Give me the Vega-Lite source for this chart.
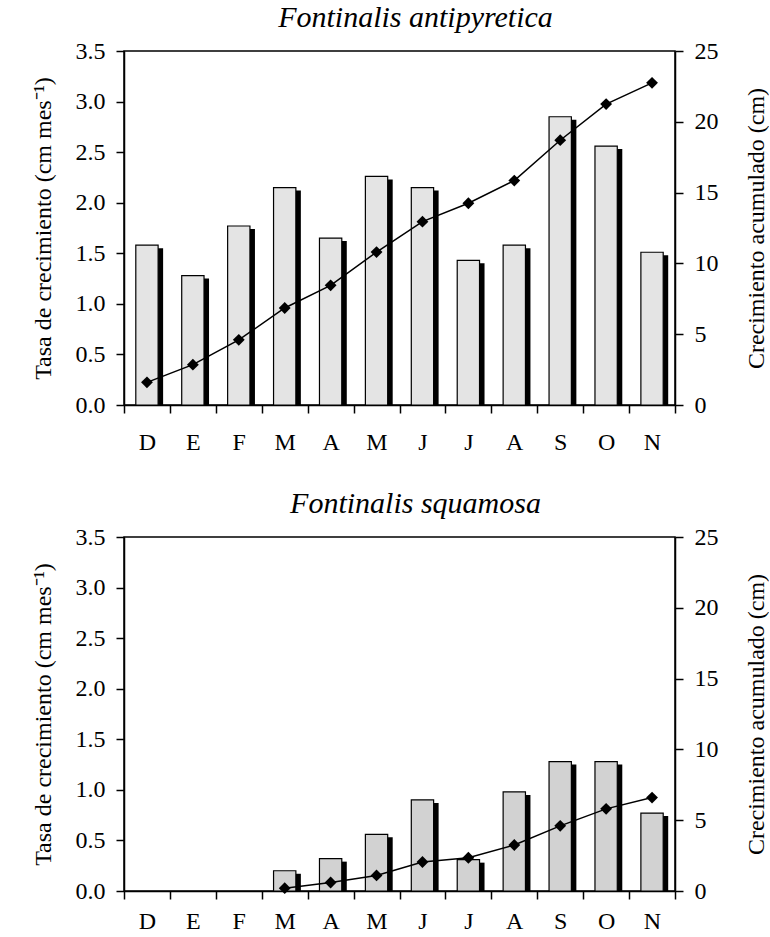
{
  "$schema": "https://vega.github.io/schema/vega-lite/v6.json",
  "background": "white",
  "padding": {"left": 30, "top": 2, "right": 0, "bottom": 0},
  "spacing": 33,
  "config": {
    "font": "Liberation Serif",
    "view": {"stroke": "black", "strokeWidth": 1.5},
    "axis": {
      "grid": false,
      "domainColor": "black",
      "domainWidth": 1.5,
      "tickColor": "black",
      "tickWidth": 1.5,
      "tickSize": 8,
      "labelFont": "Liberation Serif",
      "labelFontSize": 24,
      "labelColor": "black",
      "titleFont": "Liberation Serif",
      "titleFontSize": 24,
      "titleFontWeight": "normal",
      "titleColor": "black"
    },
    "title": {"font": "Liberation Serif", "fontSize": 30, "fontStyle": "italic", "fontWeight": "normal", "color": "black", "offset": 6, "dx": 16}
  },
  "datasets": {
    "a": [
      {"mes": "D", "tasa": 1.58, "cum": 1.6},
      {"mes": "E", "tasa": 1.28, "cum": 2.85},
      {"mes": "F", "tasa": 1.77, "cum": 4.6},
      {"mes": "Mar", "tasa": 2.15, "cum": 6.85},
      {"mes": "Abr", "tasa": 1.65, "cum": 8.45},
      {"mes": "May", "tasa": 2.26, "cum": 10.8},
      {"mes": "Jun", "tasa": 2.15, "cum": 12.95},
      {"mes": "Jul", "tasa": 1.43, "cum": 14.25},
      {"mes": "Ago", "tasa": 1.58, "cum": 15.85},
      {"mes": "S", "tasa": 2.85, "cum": 18.7},
      {"mes": "O", "tasa": 2.56, "cum": 21.25},
      {"mes": "N", "tasa": 1.51, "cum": 22.75}
    ],
    "s": [
      {"mes": "D", "tasa": 0, "cum": null},
      {"mes": "E", "tasa": 0, "cum": null},
      {"mes": "F", "tasa": 0, "cum": null},
      {"mes": "Mar", "tasa": 0.2, "cum": 0.2},
      {"mes": "Abr", "tasa": 0.32, "cum": 0.6},
      {"mes": "May", "tasa": 0.56, "cum": 1.1},
      {"mes": "Jun", "tasa": 0.9, "cum": 2.05},
      {"mes": "Jul", "tasa": 0.31, "cum": 2.35},
      {"mes": "Ago", "tasa": 0.98, "cum": 3.25},
      {"mes": "S", "tasa": 1.28, "cum": 4.6},
      {"mes": "O", "tasa": 1.28, "cum": 5.8},
      {"mes": "N", "tasa": 0.77, "cum": 6.6}
    ]
  },
  "vconcat": [
    {
      "title": {"text": "Fontinalis antipyretica"},
      "width": 551,
      "height": 354,
      "data": {"name": "a"},
      "encoding": {
        "x": {"field": "mes", "type": "ordinal", "sort": null,
          "scale": {"domain": ["D", "E", "F", "Mar", "Abr", "May", "Jun", "Jul", "Ago", "S", "O", "N"], "paddingInner": 0, "paddingOuter": 0},
          "axis": {"title": null, "labelAngle": 0, "tickBand": "extent", "labelExpr": "substring(datum.label,0,1)", "labelPadding": 17}}
      },
      "layer": [
        {
          "transform": [{"filter": "datum.tasa > 0"}],
          "encoding": {
            "y": {"field": "tasa", "type": "quantitative",
              "scale": {"domain": [0, 3.5], "nice": false},
              "axis": {"title": "Tasa de crecimiento (cm mes⁻¹)", "values": [0, 0.5, 1, 1.5, 2, 2.5, 3, 3.5], "format": ".1f", "labelPadding": 11, "titlePadding": 20}}
          },
          "layer": [
            {"mark": {"type": "bar", "width": {"band": 0.486}, "color": "black", "xOffset": 5, "yOffset": 3}, "encoding": {"y2": {"datum": 0}}},
            {"mark": {"type": "bar", "width": {"band": 0.486}, "fill": "#e4e4e4", "stroke": "black", "strokeWidth": 1.2}}
          ]
        },
        {
          "encoding": {
            "y": {"field": "cum", "type": "quantitative",
              "scale": {"domain": [0, 25], "nice": false},
              "axis": {"orient": "right", "title": "Crecimiento acumulado (cm)", "titleAngle": 270, "values": [0, 5, 10, 15, 20, 25], "labelPadding": 11, "titlePadding": 50}}
          },
          "layer": [
            {"mark": {"type": "line", "color": "black", "strokeWidth": 1.5}},
            {"mark": {"type": "point", "shape": "diamond", "filled": true, "color": "black", "size": 140, "opacity": 1}}
          ]
        }
      ],
      "resolve": {"scale": {"y": "independent"}}
    },
    {
      "title": {"text": "Fontinalis squamosa"},
      "width": 551,
      "height": 354,
      "data": {"name": "s"},
      "encoding": {
        "x": {"field": "mes", "type": "ordinal", "sort": null,
          "scale": {"domain": ["D", "E", "F", "Mar", "Abr", "May", "Jun", "Jul", "Ago", "S", "O", "N"], "paddingInner": 0, "paddingOuter": 0},
          "axis": {"title": null, "labelAngle": 0, "tickBand": "extent", "labelExpr": "substring(datum.label,0,1)", "labelPadding": 10}}
      },
      "layer": [
        {
          "transform": [{"filter": "datum.tasa > 0"}],
          "encoding": {
            "y": {"field": "tasa", "type": "quantitative",
              "scale": {"domain": [0, 3.5], "nice": false},
              "axis": {"title": "Tasa de crecimiento (cm mes⁻¹)", "values": [0, 0.5, 1, 1.5, 2, 2.5, 3, 3.5], "format": ".1f", "labelPadding": 11, "titlePadding": 20}}
          },
          "layer": [
            {"mark": {"type": "bar", "width": {"band": 0.486}, "color": "black", "xOffset": 5, "yOffset": 3}, "encoding": {"y2": {"datum": 0}}},
            {"mark": {"type": "bar", "width": {"band": 0.486}, "fill": "#d2d2d2", "stroke": "black", "strokeWidth": 1.2}}
          ]
        },
        {
          "encoding": {
            "y": {"field": "cum", "type": "quantitative",
              "scale": {"domain": [0, 25], "nice": false},
              "axis": {"orient": "right", "title": "Crecimiento acumulado (cm)", "titleAngle": 270, "values": [0, 5, 10, 15, 20, 25], "labelPadding": 11, "titlePadding": 50}}
          },
          "layer": [
            {"mark": {"type": "line", "color": "black", "strokeWidth": 1.5}},
            {"mark": {"type": "point", "shape": "diamond", "filled": true, "color": "black", "size": 140, "opacity": 1}}
          ]
        }
      ],
      "resolve": {"scale": {"y": "independent"}}
    }
  ]
}
